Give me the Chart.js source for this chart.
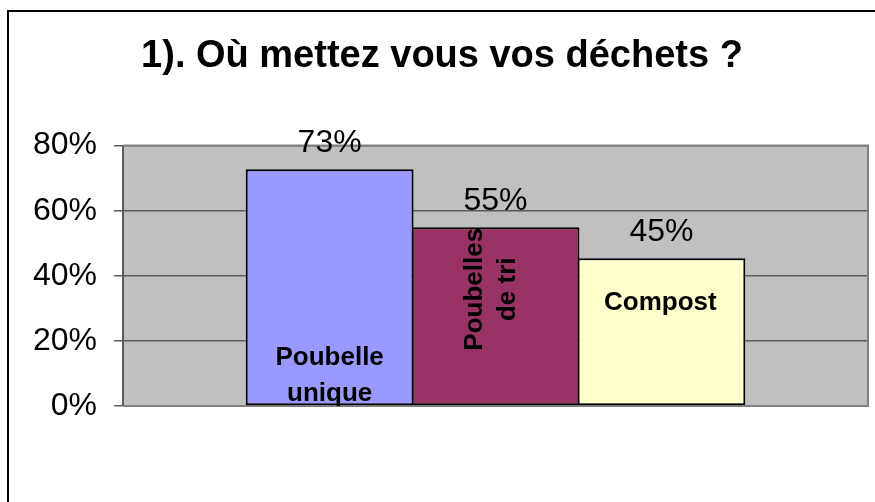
<!DOCTYPE html>
<html lang="fr">
<head>
<meta charset="utf-8">
<title>Où mettez vous vos déchets ?</title>
<script src="https://cdn.jsdelivr.net/npm/chart.js@4.4.1/dist/chart.umd.min.js"></script>
<style>
  html, body { margin: 0; padding: 0; background: #fff; }
  #chart { display: block; }
</style>
</head>
<body>
<canvas id="chart" width="875" height="502"></canvas>
<script>
const chartTitle = "1). Où mettez vous vos déchets ?";
const categories = [""];
const seriesNames = ["Poubelle unique", "Poubelles de tri", "Compost"];
const seriesLines = [["Poubelle", "unique"], ["Poubelles", "de tri"], ["Compost"]];
const seriesValues = [72.7, 54.9, 45.4];
const seriesColors = ["#9999FF", "#993366", "#FFFFCC"];
const yTicks = [0, 20, 40, 60, 80];

const FONT = 'Arial, "Liberation Sans", sans-serif';

document.addEventListener("DOMContentLoaded", function() {
    const ctx = document.getElementById("chart").getContext("2d");

    // grey plot background + outer frame of the chart
    const framePlugin = {
        id: "frame",
        beforeDraw(chart) {
            const c = chart.ctx, a = chart.chartArea;
            c.save();
            c.fillStyle = "#C0C0C0";
            c.fillRect(a.left, a.top, a.right - a.left, a.bottom - a.top);
            c.strokeStyle = "#000";
            c.lineWidth = 2;
            c.strokeRect(8, 11, 2000, 2000);
            c.restore();
        },
        beforeDatasetsDraw(chart) {
            const c = chart.ctx, a = chart.chartArea;
            c.save();
            c.strokeStyle = "#808080";
            c.lineWidth = 2;
            c.beginPath();
            c.moveTo(a.left, a.top);
            c.lineTo(a.right, a.top);
            c.lineTo(a.right, a.bottom);
            c.lineTo(a.left, a.bottom);
            c.stroke();
            c.restore();
        }
    };

    // value above each bar and series name written inside it
    const labelPlugin = {
        id: "barLabels",
        afterDatasetsDraw(chart) {
            const c = chart.ctx;
            c.save();
            c.fillStyle = "#000";
            c.textAlign = "center";
            chart.data.datasets.forEach(function(ds, i) {
                const bar = chart.getDatasetMeta(i).data[0];
                const base = bar.base;

                c.font = "32px " + FONT;
                c.textBaseline = "alphabetic";
                c.fillText(Math.round(ds.data[0]) + "%", bar.x, bar.y - 17);

                c.font = "bold 26px " + FONT;
                c.textBaseline = "middle";
                const lines = seriesLines[i];
                if (i === 0) {
                    c.fillText(lines[0], bar.x, base - 47);
                    c.fillText(lines[1], bar.x, base - 11);
                } else if (i === 1) {
                    // vertical text
                    c.save();
                    c.translate(bar.x - 4.5, bar.y + 62);
                    c.rotate(-Math.PI / 2);
                    lines.forEach(function(line, k) {
                        c.fillText(line, 0, (k - 0.5) * 33);
                    });
                    c.restore();
                } else {
                    c.fillText(lines[0], bar.x - 1, bar.y + 45);
                }
            });
            c.restore();
        }
    };

    const datasets = seriesNames.map(function(name, i) {
        return {
            label: name,
            data: [seriesValues[i]],
            backgroundColor: seriesColors[i],
            borderColor: "#000",
            borderWidth: 2,
            borderSkipped: false,
            barPercentage: 1.012,
            categoryPercentage: 0.668
        };
    });

    new Chart(ctx, {
        type: "bar",
        data: { labels: categories, datasets: datasets },
        plugins: [framePlugin, labelPlugin],
        options: {
            responsive: false,
            animation: false,
            layout: { padding: { top: 10, left: 16, right: 7, bottom: 96 } },
            plugins: {
                legend: { display: false },
                tooltip: { enabled: false },
                title: {
                    display: true,
                    text: chartTitle,
                    color: "#000",
                    font: { family: FONT, size: 38, weight: "bold" },
                    padding: { top: 24, bottom: 66 }
                }
            },
            scales: {
                x: { display: false },
                y: {
                    min: yTicks[0],
                    max: yTicks[yTicks.length - 1],
                    afterBuildTicks: function(axis) {
                        axis.ticks = yTicks.map(v => ({ value: v }));
                    },
                    ticks: {
                        color: "#000",
                        padding: 17,
                        font: { family: FONT, size: 32 },
                        callback: v => v + "%"
                    },
                    grid: { color: "#5a5a5a", lineWidth: 1.5, tickLength: 9 },
                    border: { color: "#5a5a5a", width: 2 }
                }
            }
        }
    });
});
</script>
</body>
</html>
